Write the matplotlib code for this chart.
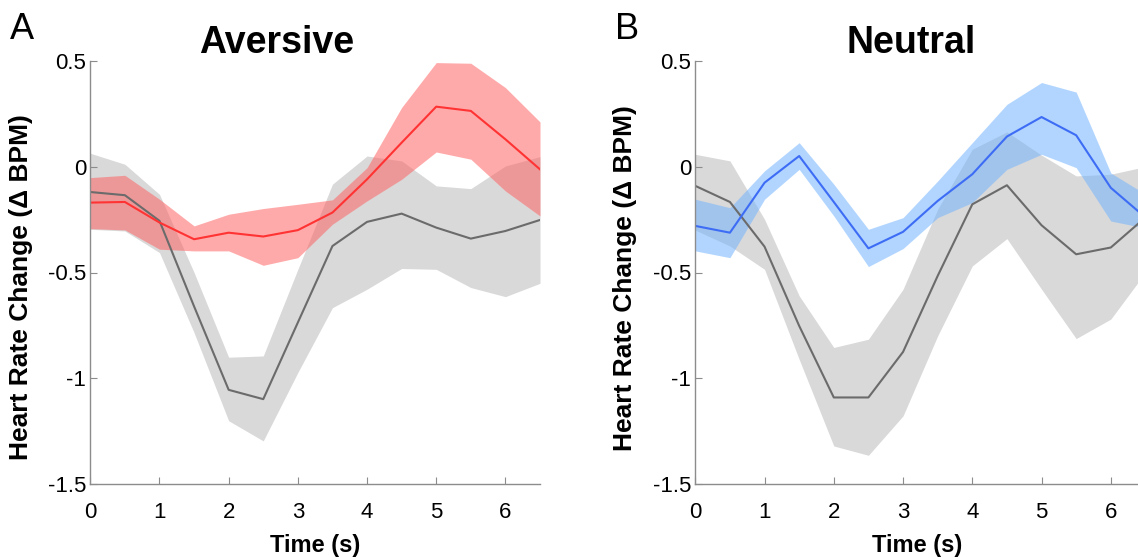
import matplotlib
matplotlib.use("Agg")
from matplotlib import pyplot as plt
import numpy as np

plt.rcParams['font.family'] = ['Liberation Sans', 'DejaVu Sans']

# time points (s)
time = [0, 0.5, 1, 1.5, 2, 2.5, 3, 3.5, 4, 4.5, 5, 5.5, 6, 6.5]

# Aversive: CS+ (red) and control (grey)
av_mean = [-0.17, -0.167, -0.264, -0.343, -0.312, -0.33, -0.30, -0.217, -0.06, 0.113, 0.283, 0.263, 0.129, -0.013]
av_upper = [-0.052, -0.041, -0.154, -0.28, -0.225, -0.198, -0.178, -0.157, -0.005, 0.279, 0.491, 0.488, 0.373, 0.211]
av_lower = [-0.293, -0.299, -0.39, -0.398, -0.398, -0.466, -0.43, -0.272, -0.162, -0.06, 0.069, 0.035, -0.115, -0.233]
av_ctrl_mean = [-0.12, -0.135, -0.256, -0.66, -1.054, -1.098, -0.736, -0.375, -0.261, -0.222, -0.288, -0.34, -0.304, -0.252]
av_ctrl_upper = [0.063, 0.011, -0.131, -0.50, -0.90, -0.894, -0.485, -0.083, 0.05, 0.027, -0.091, -0.104, 0.003, 0.047]
av_ctrl_lower = [-0.296, -0.304, -0.406, -0.784, -1.2, -1.295, -0.972, -0.666, -0.579, -0.481, -0.485, -0.571, -0.614, -0.551]

# Neutral: CS (blue) and control (grey)
ne_mean = [-0.28, -0.312, -0.076, 0.05, -0.167, -0.386, -0.308, -0.162, -0.036, 0.142, 0.234, 0.148, -0.10, -0.24]
ne_upper = [-0.154, -0.194, -0.02, 0.113, -0.083, -0.296, -0.241, -0.068, 0.113, 0.294, 0.397, 0.352, -0.03, -0.13]
ne_lower = [-0.398, -0.43, -0.154, -0.013, -0.233, -0.472, -0.387, -0.241, -0.17, -0.013, 0.058, -0.005, -0.257, -0.29]
ne_ctrl_mean = [-0.091, -0.167, -0.378, -0.752, -1.09, -1.09, -0.875, -0.516, -0.178, -0.088, -0.277, -0.414, -0.382, -0.24]
ne_ctrl_upper = [0.058, 0.027, -0.249, -0.61, -0.854, -0.815, -0.579, -0.201, 0.082, 0.164, 0.054, -0.044, -0.036, 0.0]
ne_ctrl_lower = [-0.30, -0.375, -0.485, -0.91, -1.319, -1.363, -1.177, -0.799, -0.469, -0.34, -0.579, -0.812, -0.72, -0.5]

W, H = 1138, 558
fig = plt.figure(figsize=(W / 100, H / 100), dpi=100)

def panel(rect, xmax, mean, up, lo, cm, cu, cl, line_c, fill_c, title, tx, letter, lx, ylab_x, ylab_y):
    ax = fig.add_axes(rect)
    ax.fill_between(time, cl, cu, color='#d9d9d9', lw=0)
    ax.plot(time, cm, color='#6b6b6b', lw=1.5)
    ax.fill_between(time, lo, up, color=fill_c, alpha=0.55, lw=0)
    ax.plot(time, mean, color=line_c, lw=1.5)
    ax.set_xlim(0, xmax)
    ax.set_ylim(-1.5, 0.5)
    ax.set_xticks([0, 1, 2, 3, 4, 5, 6])
    ax.set_yticks([-1.5, -1, -0.5, 0, 0.5])
    ax.set_yticklabels(['-1.5', '-1', '-0.5', '0', '0.5'])
    for s in ['top', 'right']:
        ax.spines[s].set_visible(False)
    for s in ['left', 'bottom']:
        ax.spines[s].set_color('#8c8c8c')
        ax.spines[s].set_linewidth(1.0)
    ax.tick_params(direction='in', length=5, color='#8c8c8c', labelsize=16)
    ax.tick_params(axis='x', pad=13)
    ax.tick_params(axis='y', pad=3)
    ax.set_xlabel('Time (s)', fontsize=17, fontweight='bold', labelpad=8)
    ax.set_ylabel('Heart Rate Change (\u0394 BPM)', fontsize=19, fontweight='bold')
    ax.yaxis.set_label_coords(ylab_x, ylab_y)
    fig.text(tx, 1 - 53 / H, title, fontsize=27, fontweight='bold', ha='center', va='baseline')
    fig.text(lx, 1 - 39 / H, letter, fontsize=26, ha='left', va='baseline')
    return ax

bottom = 73.7 / H
height = 423.6 / H
panel([90.3 / W, bottom, 449.7 / W, height], 6.5,
      av_mean, av_upper, av_lower, av_ctrl_mean, av_ctrl_upper, av_ctrl_lower,
      '#ff3333', '#ff6464', 'Aversive', 277 / W, 'A', 10 / W,
      (33 - 90.3) / 449.7, (558 - 287 - 73.7) / 423.6)
panel([695.3 / W, bottom, (W - 695.3) / W, height], (W - 695.3) / 69.25,
      ne_mean, ne_upper, ne_lower, ne_ctrl_mean, ne_ctrl_upper, ne_ctrl_lower,
      '#3d6cf5', '#74b4ff', 'Neutral', 911 / W, 'B', 615 / W,
      (637 - 695.3) / (W - 695.3), (558 - 278 - 73.7) / 423.6)

fig.savefig('out.png', dpi=100)
